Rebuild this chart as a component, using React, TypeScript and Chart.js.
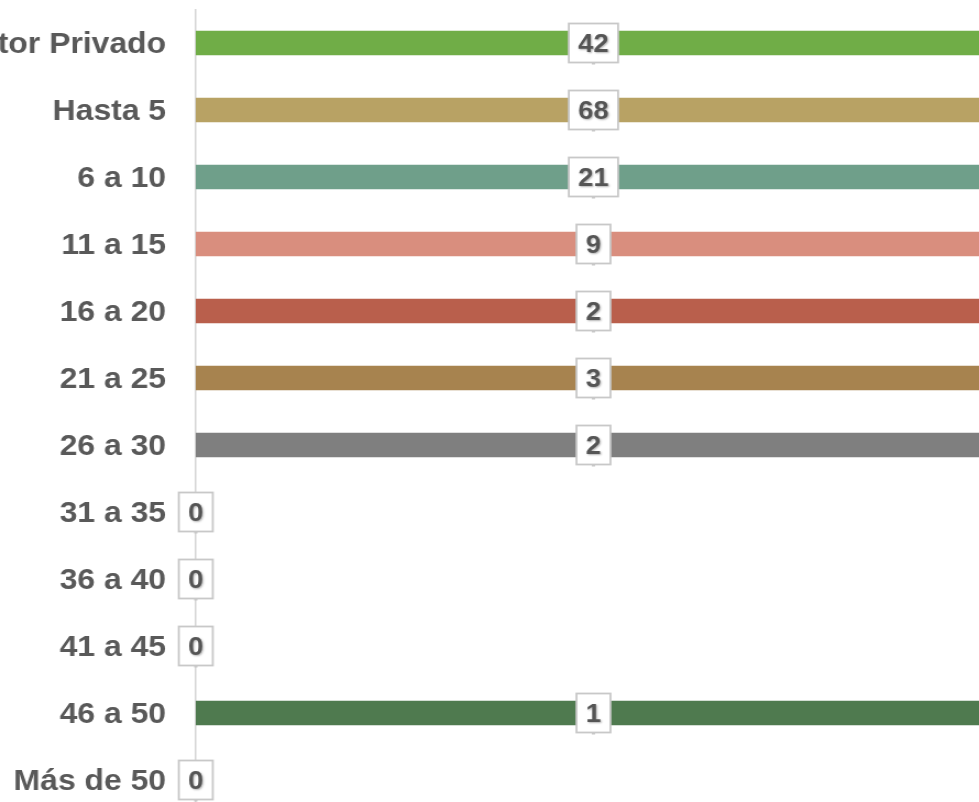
import React, { useEffect, useRef } from "react";
import { Chart, registerables } from "chart.js";

Chart.register(...registerables);

const categories = [
  "Sector Privado",
  "Hasta 5",
  "6 a 10",
  "11 a 15",
  "16 a 20",
  "21 a 25",
  "26 a 30",
  "31 a 35",
  "36 a 40",
  "41 a 45",
  "46 a 50",
  "Más de 50",
];
const counts = [42, 68, 21, 9, 2, 3, 2, 0, 0, 0, 1, 0];
const barShare = [100, 100, 100, 100, 100, 100, 100, 0, 0, 0, 100, 0];
const barColors = [
  "#70AD47",
  "#B8A264",
  "#6F9F8A",
  "#D98E7E",
  "#B95F4C",
  "#A7834F",
  "#7F7F7F",
  "#A5A5A5",
  "#A5A5A5",
  "#A5A5A5",
  "#4F7A4F",
  "#A5A5A5",
];
const axisMax = 98.48;

const FONT = "'Liberation Sans', Arial, sans-serif";

const labelBoxes = {
  id: "labelBoxes",
  afterDatasetsDraw(chart: any) {
    const ctx = chart.ctx as CanvasRenderingContext2D;
    const xs = chart.scales.x;
    const ys = chart.scales.y;
    ctx.save();
    ctx.font = `bold 25px ${FONT}`;
    ctx.textAlign = "center";
    ctx.textBaseline = "middle";
    counts.forEach((v, i) => {
      const cx = xs.getPixelForValue(barShare[i] / 2);
      const cy = ys.getPixelForValue(i);
      const text = String(v);
      const w = ctx.measureText(text).width + 17;
      const h = 39;
      ctx.shadowColor = "transparent";
      ctx.fillStyle = "#ffffff";
      ctx.fillRect(cx - w / 2, cy - h / 2, w, h);
      ctx.strokeStyle = "#c8c8c8";
      ctx.lineWidth = 1.8;
      ctx.strokeRect(cx - w / 2, cy - h / 2, w, h);
      ctx.fillStyle = "#c8c8c8";
      ctx.fillRect(cx - 1.5, cy + h / 2, 3, 2);
      ctx.shadowColor = "rgba(0,0,0,0.3)";
      ctx.shadowBlur = 2;
      ctx.shadowOffsetX = 1;
      ctx.shadowOffsetY = 1;
      ctx.fillStyle = "#555555";
      ctx.fillText(text, cx, cy + 2);
    });
    ctx.restore();
  },
};

export default function App() {
  const ref = useRef<HTMLCanvasElement | null>(null);

  useEffect(() => {
    if (!ref.current) return;
    const chart = new Chart(ref.current, {
      type: "bar",
      data: {
        labels: categories,
        datasets: [
          {
            data: barShare,
            backgroundColor: barColors,
            barThickness: 24,
            borderWidth: 0,
          },
        ],
      },
      options: {
        indexAxis: "y",
        animation: false,
        responsive: false,
        devicePixelRatio: 1,
        layout: { padding: { top: 9.5, bottom: 16.5, left: 0, right: 0 } },
        plugins: {
          legend: { display: false },
          tooltip: { enabled: false },
          title: { display: false },
        },
        scales: {
          x: {
            display: false,
            min: 0,
            max: axisMax,
          },
          y: {
            position: "left",
            grid: { display: false, drawTicks: false },
            border: { display: true, color: "#d6d6d6", width: 1.5 },
            ticks: {
              autoSkip: false,
              padding: 27,
              labelOffset: 2,
              color: "#595959",
              font: { family: FONT, size: 29, weight: "bold" },
            },
            afterFit: (scale: any) => {
              scale.width = 178;
              scale.paddingTop = 0;
              scale.paddingBottom = 0;
            },
          },
        },
      },
      plugins: [labelBoxes],
    });
    return () => chart.destroy();
  }, []);

  return (
    <div
      style={{
        position: "fixed",
        left: 0,
        top: 0,
        width: 979,
        height: 802,
        overflow: "hidden",
        background: "#ffffff",
      }}
    >
      <canvas
        ref={ref}
        width={890}
        height={830}
        style={{
          display: "block",
          width: 890,
          height: 830,
          transform: "scaleX(1.1)",
          transformOrigin: "0 0",
        }}
      />
    </div>
  );
}
